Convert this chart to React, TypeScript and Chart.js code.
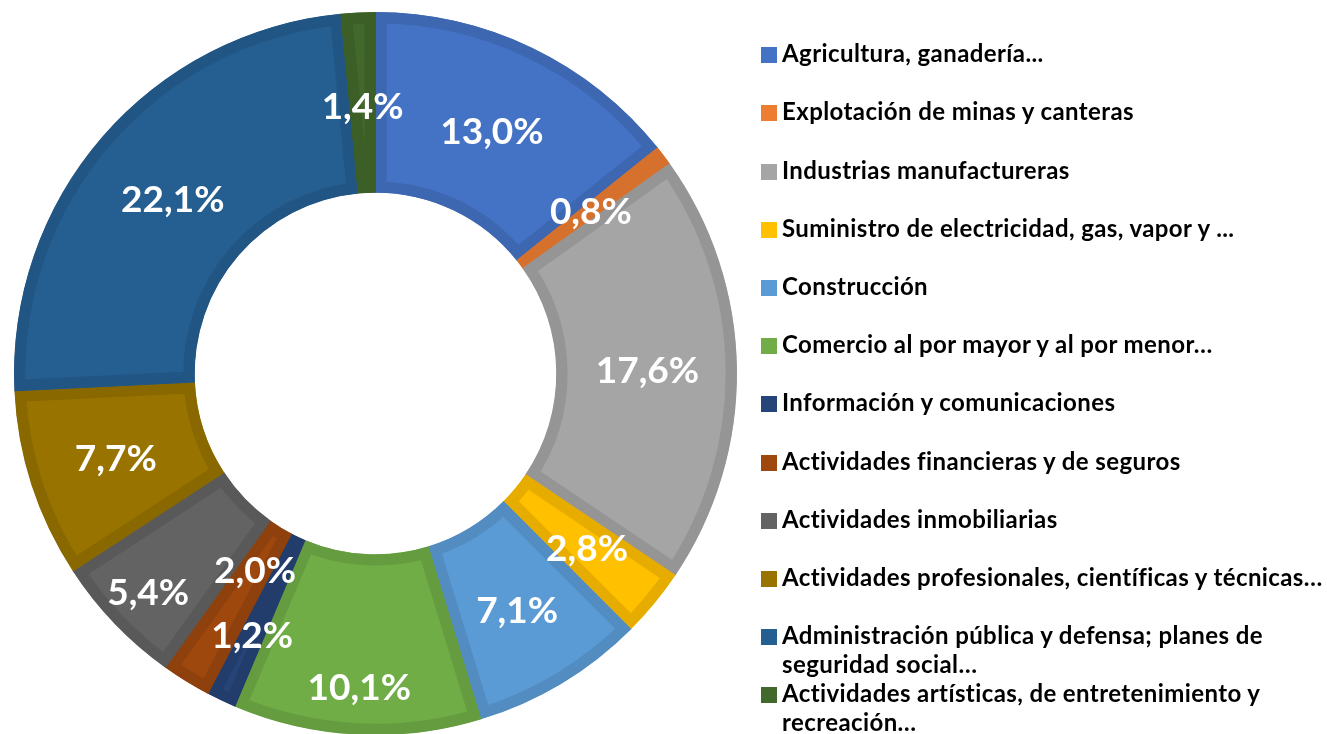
import React, { useEffect, useRef } from "react";
import { Chart, registerables } from "chart.js";

Chart.register(...registerables);

const categories: string[] = [
  "Agricultura, ganadería...",
  "Explotación de minas y canteras",
  "Industrias manufactureras",
  "Suministro de electricidad, gas, vapor y ...",
  "Construcción",
  "Comercio al por mayor y al por menor…",
  "Información y comunicaciones",
  "Actividades financieras y de seguros",
  "Actividades inmobiliarias",
  "Actividades profesionales, científicas y técnicas…",
  "Administración pública y defensa; planes de\nseguridad social…",
  "Actividades artísticas, de entretenimiento y\nrecreación…",
];

const values: number[] = [13.0, 0.8, 17.6, 2.8, 7.1, 10.1, 1.2, 2.0, 5.4, 7.7, 22.1, 1.4];

const fillColors: string[] = [
  "#4472C4", "#ED7D31", "#A5A5A5", "#FFC000", "#5B9BD5", "#70AD47",
  "#264478", "#9E480E", "#636363", "#997300", "#255E91", "#43682B",
];

const borderColors: string[] = [
  "#3E67B1", "#D5712D", "#959595", "#E6AD00", "#528CC0", "#659C40",
  "#223D6C", "#8E410D", "#595959", "#8A6800", "#215583", "#3C5E27",
];

// radial distance of each percentage label from the centre (px)
const labelRadii: number[] = [269, 270, 272, 274, 275, 314, 289, 230, 315, 273, 268, 268];

const FONT = "Lato, 'Open Sans', 'DejaVu Sans', sans-serif";

const sliceLabels = {
  id: "sliceLabels",
  afterDatasetsDraw(chart: any, _args: any, opts: any) {
    const ctx = chart.ctx;
    const meta = chart.getDatasetMeta(0);
    const data = chart.data.datasets[0].data as number[];
    ctx.save();
    ctx.font = `bold ${opts.size}px ${FONT}`;
    ctx.fillStyle = "#FFFFFF";
    ctx.textAlign = "center";
    ctx.textBaseline = "alphabetic";
    meta.data.forEach((arc: any, i: number) => {
      const p = arc.getProps(["x", "y", "startAngle", "endAngle"], true);
      const mid = (p.startAngle + p.endAngle) / 2;
      const r = opts.radii[i];
      const tx = p.x + r * Math.cos(mid);
      const ty = p.y + r * Math.sin(mid);
      const text = data[i].toFixed(1).replace(".", ",") + "%";
      ctx.fillText(text, tx, ty + opts.size * 0.36);
    });
    ctx.restore();
  },
};

export default function App() {
  const canvasRef = useRef<HTMLCanvasElement | null>(null);

  useEffect(() => {
    if (!canvasRef.current) return;
    const chart = new Chart(canvasRef.current, {
      type: "doughnut",
      data: {
        labels: categories,
        datasets: [
          {
            data: values,
            backgroundColor: fillColors,
            borderColor: borderColors,
            borderWidth: 11,
            borderAlign: "inner",
            hoverOffset: 0,
            offset: 0,
          } as any,
        ],
      },
      options: {
        responsive: false,
        animation: false,
        cutout: "50%",
        rotation: 0,
        layout: { padding: { left: 14, right: 590, top: 12, bottom: 5 } },
        plugins: {
          legend: { display: false },
          tooltip: { enabled: false },
          sliceLabels: { radii: labelRadii, size: 37 },
        } as any,
      },
      plugins: [sliceLabels],
    });
    return () => chart.destroy();
  }, []);

  const rowPitch = 58.2;
  const firstRowCenter = 52.7;
  const lineH = 29;

  return (
    <div style={{ position: "absolute", left: 0, top: 0, width: 1327, height: 734, background: "#fff", overflow: "hidden" }}>
      <canvas ref={canvasRef} width={1327} height={740} style={{ position: "absolute", left: 0, top: 0 }} />
      {categories.map((c, i) => {
        const top = firstRowCenter + i * rowPitch - lineH / 2;
        return (
          <div
            key={i}
            style={{
              position: "absolute",
              left: 761,
              top,
              display: "flex",
              alignItems: "flex-start",
              fontFamily: FONT,
              fontWeight: 700,
              fontSize: 24,
              letterSpacing: "0.4px",
              lineHeight: `${lineH}px`,
              color: "#000",
              whiteSpace: "pre",
            }}
          >
            <span
              style={{
                display: "inline-block",
                width: 16,
                height: 16,
                marginTop: 9,
                marginRight: 5,
                background: fillColors[i],
                flex: "none",
              }}
            />
            <span>{c}</span>
          </div>
        );
      })}
    </div>
  );
}
